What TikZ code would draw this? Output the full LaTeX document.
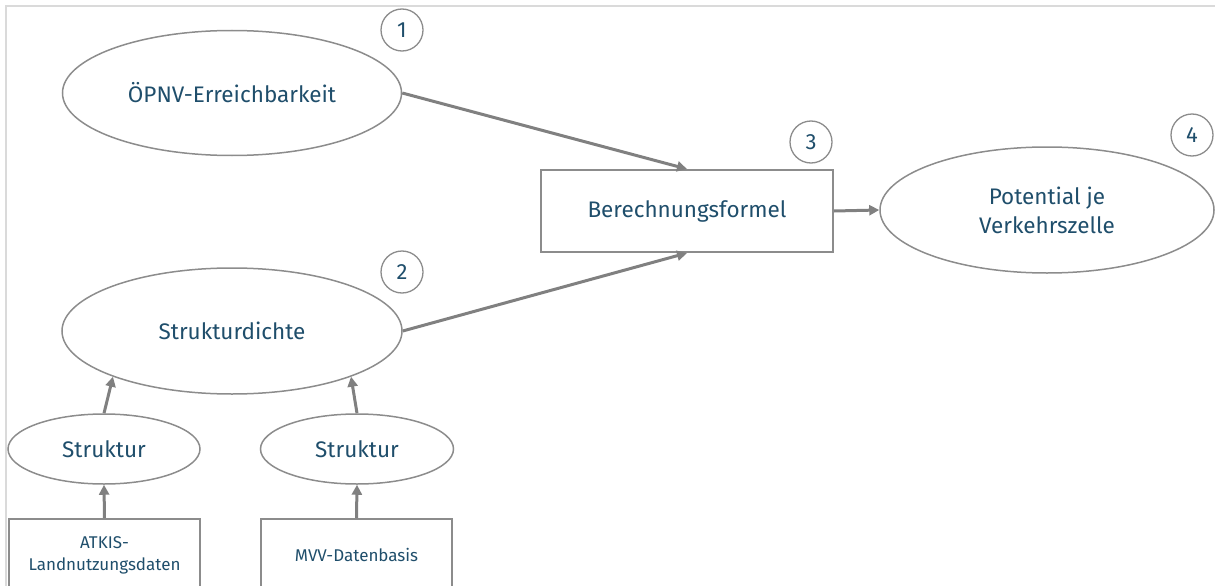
\documentclass[tikz,border=0pt]{standalone}
\usepackage{fontspec}
\setmainfont{Fira Sans}
\usetikzlibrary{shapes.geometric,arrows.meta}
\definecolor{txtblue}{HTML}{1F4E6B}
\definecolor{linegray}{HTML}{8C8C8C}
\definecolor{arrowgray}{HTML}{808080}
\definecolor{framegray}{HTML}{DADADA}

\begin{document}
\begin{tikzpicture}[x=1pt,y=-1pt]
\tikzstyle{blob}=[ellipse,draw=linegray,line width=1.5pt,inner sep=0pt,align=center,text=txtblue,font=\fontsize{22.5}{29}\selectfont]
\tikzstyle{recti}=[rectangle,draw=linegray,line width=2pt,inner sep=0pt,align=center,text=txtblue,font=\fontsize{22.5}{29}\selectfont]
\tikzstyle{quelle}=[recti,font=\fontsize{17}{22}\selectfont,minimum width=191pt,minimum height=72pt]
\tikzstyle{nummer}=[circle,draw=linegray,line width=1.3pt,minimum size=42pt,inner sep=0pt,text=txtblue,font=\fontsize{22}{26}\selectfont]
\tikzstyle{pfeil}=[draw=arrowgray,line width=3pt,-{Triangle[length=10pt,width=10pt]}]
\useasboundingbox (0,0) rectangle (1215,586);
\clip (0,0) rectangle (1215,586);
\draw[framegray,line width=2pt] (6,600) -- (6,6) -- (1220,6);
% inputs
\node[blob,minimum width=339pt,minimum height=125pt] (oepnv) at (232,93) {ÖPNV-Erreichbarkeit};
\node[blob,minimum width=340pt,minimum height=126pt] (dichte) at (232,331) {Strukturdichte};
\node[blob,minimum width=192pt,minimum height=70pt] (strukA) at (104,449) {Struktur};
\node[blob,minimum width=193pt,minimum height=70pt] (strukB) at (357,449) {Struktur};
\node[quelle] (atkis) at (104.5,555) {ATKIS-\\Landnutzungsdaten};
\node[quelle] (mvv) at (356.5,555) {MVV-Datenbasis};
% formula and result
\node[recti,minimum width=292pt,minimum height=82pt] (formel) at (687,211) {Berechnungsformel};
\node[blob,minimum width=334pt,minimum height=126pt] (potential) at (1047,210) {Potential je\\Verkehrszelle};
% numbers
\node[nummer] (n1) at (402,30) {1};
\node[nummer] (n2) at (402,272) {2};
\node[nummer] (n3) at (811,142) {3};
\node[nummer] (n4) at (1192,135) {4};
% arrows
\draw[pfeil] (oepnv.east) -- (formel.north);
\draw[pfeil] (dichte.east) -- (formel.south);
\draw[pfeil] (formel.east) -- (potential.west);
\draw[pfeil] (strukA.north) -- (dichte.201);
\draw[pfeil] (strukB.north) -- (dichte.339);
\draw[pfeil] (atkis.north) -- (strukA.south);
\draw[pfeil] (mvv.north) -- (strukB.south);
\end{tikzpicture}
\end{document}
